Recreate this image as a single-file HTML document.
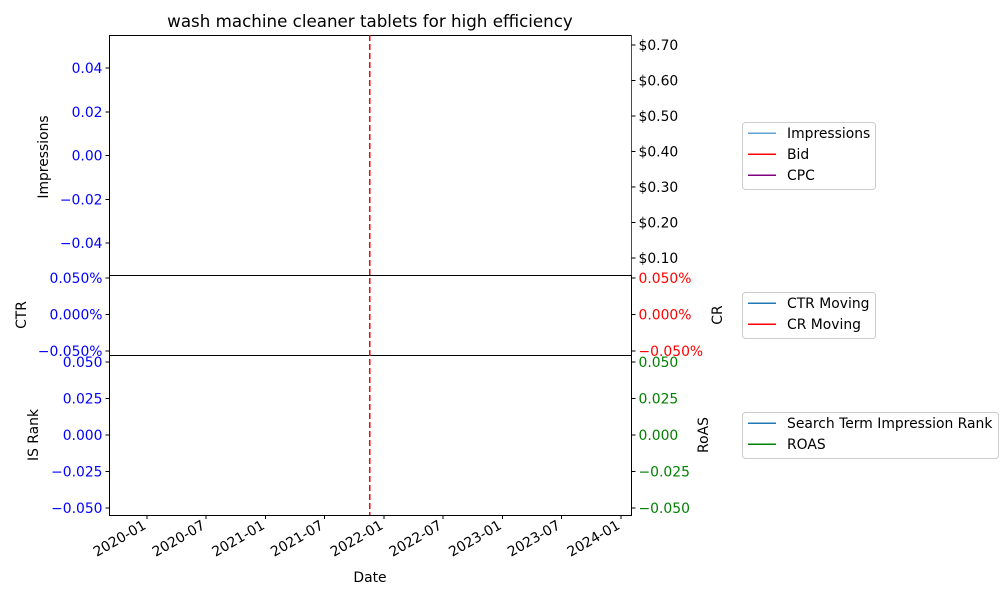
<!DOCTYPE html>
<html><head><meta charset="utf-8"><style>
body{margin:0;background:#fff;font-family:"Liberation Sans","DejaVu Sans",sans-serif}
svg text{font-family:"DejaVu Sans","Liberation Sans",sans-serif;font-size:13.9px}
</style></head><body>
<svg id="c" width="1000" height="600" xmlns="http://www.w3.org/2000/svg" shape-rendering="crispEdges"></svg>
<script>
const xTickLabels=["2020-01","2020-07","2021-01","2021-07","2022-01","2022-07","2023-01","2023-07","2024-01"];
const bidChangeDate="2021-11-18";
const impTicks=[0.04,0.02,0.00,-0.02,-0.04];
const cpcTicks=[0.70,0.60,0.50,0.40,0.30,0.20,0.10];
const ctrTicks=[0.05,0.00,-0.05];
const rankTicks=[0.050,0.025,0.000,-0.025,-0.050];
const impressions=[];const bids=[];const cpcs=[];

const svg=document.getElementById('c');const NS="http://www.w3.org/2000/svg";
function el(t,a,txt){const e=document.createElementNS(NS,t);for(const k in a)e.setAttribute(k,a[k]);if(txt!==undefined)e.textContent=txt;svg.appendChild(e);return e;}
const L=109.5,R=631.5;
const d0=Date.parse("2020-01-01"),day=86400000;
const xs=d=>147+(Date.parse(d)-d0)/day*0.3244;
const lin=(v0,p0,v1,p1)=>v=>p0+(v-v0)*(p1-p0)/(v1-v0);
const yImp=lin(0.04,68,-0.04,243), yCpc=lin(0.70,45,0.10,258), yCtr=lin(0.05,278,-0.05,351), yRank=lin(0.05,362,-0.05,508);
function fmt(v,d){let s=v.toFixed(d);if(v<0)s='\u2212'+s.slice(1);return s;}

const tt=el('text',{x:370,y:27,'text-anchor':'middle',style:'font-size:16.7px',},"wash machine cleaner tablets for high efficiency");
[[35.5,275.5],[275.5,355.5],[355.5,515.5]].forEach((p,i)=>{const r=el('rect',{x:L,y:p[0],width:R-L,height:p[1]-p[0],fill:'none',stroke:'#000','stroke-width':1});});
const rs=el('line',{x1:R,y1:35,x2:R,y2:275,stroke:'red'});
function ytick(x,y,lab,col,side,name){
 const dx=side<0?-4:4;
 el('line',{x1:x,y1:y,x2:x+dx,y2:y,stroke:'#000'});
 const t=el('text',{x:x+(side<0?-7:7),y:y+5,'text-anchor':side<0?'end':'start',fill:col},lab);
 
}
impTicks.forEach(v=>ytick(L,yImp(v),fmt(v,2),'blue',-1,'impressions-tick'));
cpcTicks.forEach(v=>ytick(R,yCpc(v),'$'+v.toFixed(2),'#000',1,'cpc-tick'));
ctrTicks.forEach(v=>{ytick(L,yCtr(v),fmt(v,3)+'%','blue',-1,'ctr-tick');ytick(R,yCtr(v),fmt(v,3)+'%','red',1,'cr-tick');});
rankTicks.forEach(v=>{ytick(L,yRank(v),fmt(v,3),'blue',-1,'is-rank-tick');ytick(R,yRank(v),fmt(v,3),'green',1,'roas-tick');});
xTickLabels.forEach(l=>{const x=xs(l+"-01");el('line',{x1:x,y1:515,x2:x,y2:519,stroke:'#000'});
 const t=el('text',{x:x,y:528,'text-anchor':'end',transform:`rotate(-30 ${x} 528)`},l);});
const bx=xs(bidChangeDate);
const bl=el('line',{x1:bx,y1:35,x2:bx,y2:515,stroke:'red','stroke-width':1.5,'stroke-dasharray':'6,3'});
function vt(x,y,s,name){const t=el('text',{x:x,y:y,'text-anchor':'middle',transform:`rotate(-90 ${x} ${y})`},s);}
vt(48,157,'Impressions','y-axis-title-impressions');vt(26,315,'CTR','y-axis-title-ctr');vt(38,435,'IS Rank','y-axis-title-is-rank');
vt(722,315,'CR','y-axis-title-cr');vt(708,435,'RoAS','y-axis-title-roas');
const xt=el('text',{x:370,y:582,'text-anchor':'middle'},'Date');
function legend(x,y,w,items,name){const h=items.length*21+4;
 const r=el('rect',{x:x+0.5,y:y+0.5,width:w,height:h,rx:3,fill:'#fff',stroke:'#ccc'});
 items.forEach((it,i)=>{const yy=y+11+i*21;el('line',{x1:x+6,y1:yy,x2:x+34,y2:yy,stroke:it[1],'stroke-width':1.5});
  const t=el('text',{x:x+45,y:yy+5},it[0]);});}
legend(742,122,133,[["Impressions","#5fa2d6"],["Bid","red"],["CPC","purple"]],'legend-top');
legend(742,292,133,[["CTR Moving","#1f77b4"],["CR Moving","red"]],'legend-middle');
legend(742,412,256,[["Search Term Impression Rank","#1f77b4"],["ROAS","green"]],'legend-bottom');
</script>
</body></html>
